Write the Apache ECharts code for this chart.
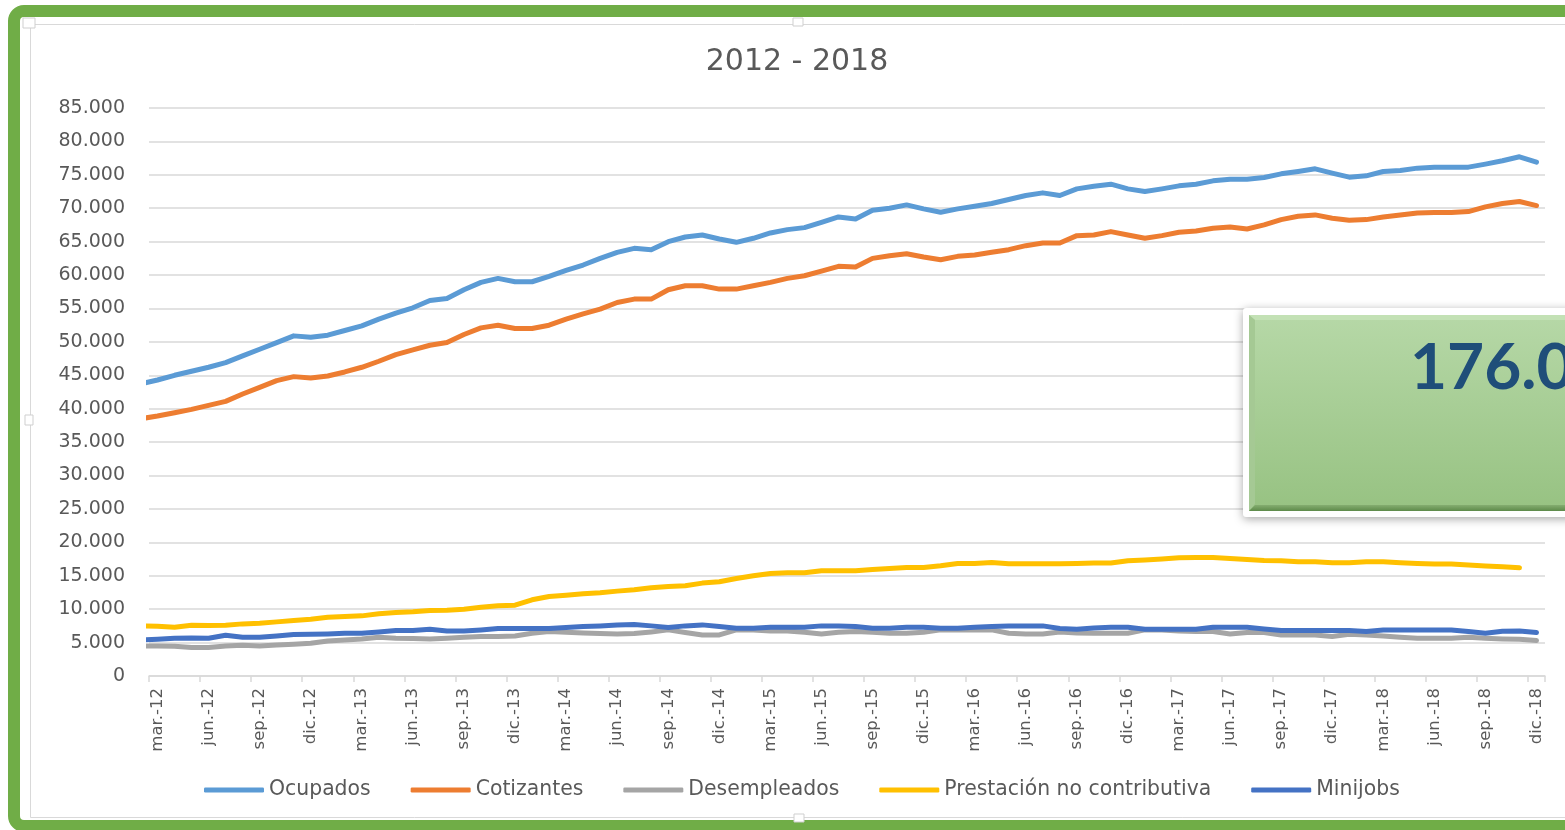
<!DOCTYPE html>
<html>
<head>
<meta charset="utf-8">
<script src="https://cdn.jsdelivr.net/npm/echarts@6/dist/echarts.min.js"></script>
<style>
html,body{margin:0;padding:0;background:#ffffff;}
#c{width:1565px;height:830px;}
</style>
</head>
<body>
<div id="c"></div>
<script>
// Categories (first one, feb.-12, lies just outside the visible axis range and is clipped)
const months = [
  'feb.-12','mar.-12','abr.-12','may.-12','jun.-12','jul.-12','ago.-12','sep.-12','oct.-12','nov.-12','dic.-12',
  'ene.-13','feb.-13','mar.-13','abr.-13','may.-13','jun.-13','jul.-13','ago.-13','sep.-13','oct.-13','nov.-13','dic.-13',
  'ene.-14','feb.-14','mar.-14','abr.-14','may.-14','jun.-14','jul.-14','ago.-14','sep.-14','oct.-14','nov.-14','dic.-14',
  'ene.-15','feb.-15','mar.-15','abr.-15','may.-15','jun.-15','jul.-15','ago.-15','sep.-15','oct.-15','nov.-15','dic.-15',
  'ene.-16','feb.-16','mar.-16','abr.-16','may.-16','jun.-16','jul.-16','ago.-16','sep.-16','oct.-16','nov.-16','dic.-16',
  'ene.-17','feb.-17','mar.-17','abr.-17','may.-17','jun.-17','jul.-17','ago.-17','sep.-17','oct.-17','nov.-17','dic.-17',
  'ene.-18','feb.-18','mar.-18','abr.-18','may.-18','jun.-18','jul.-18','ago.-18','sep.-18','oct.-18','nov.-18','dic.-18'
];

const ocupados = [
  43700, 44300, 45000, 45600, 46200, 46900, 47900, 48900, 49900, 50900, 50700,
  51000, 51700, 52400, 53400, 54300, 55100, 56200, 56500, 57800, 58900, 59500, 59000,
  59000, 59800, 60700, 61500, 62500, 63400, 64000, 63800, 65000, 65700, 66000, 65400,
  64900, 65500, 66300, 66800, 67100, 67900, 68700, 68400, 69700, 70000, 70500, 69900,
  69400, 69900, 70300, 70700, 71300, 71900, 72300, 71900, 72900, 73300, 73600, 72900,
  72500, 72900, 73350, 73600, 74100, 74350, 74350, 74600, 75150, 75500, 75900, 75250,
  74650, 74850, 75500, 75650, 76000, 76150, 76150, 76150, 76600, 77100, 77700, 76900
];

const cotizantes = [
  38500, 38900, 39400, 39900, 40500, 41100, 42200, 43200, 44200, 44800, 44600,
  44900, 45500, 46200, 47100, 48100, 48800, 49500, 49900, 51100, 52100, 52500, 52000,
  52000, 52500, 53400, 54200, 54900, 55900, 56400, 56400, 57800, 58400, 58400, 57900,
  57900, 58400, 58900, 59500, 59900, 60600, 61300, 61200, 62500, 62900, 63200, 62700,
  62300, 62800, 63000, 63400, 63800, 64400, 64800, 64800, 65900, 66000, 66500, 66000,
  65500, 65900, 66400, 66600, 67000, 67200, 66900, 67500, 68300, 68800, 69000, 68500,
  68200, 68300, 68700, 69000, 69300, 69350, 69350, 69500, 70200, 70700, 71000, 70400
];

const desempleados = [
  4500, 4500, 4450, 4250, 4250, 4500, 4600, 4500, 4650, 4750, 4900,
  5250, 5400, 5550, 5800, 5650, 5600, 5550, 5650, 5800, 5900, 5900, 6000,
  6400, 6650, 6550, 6450, 6350, 6300, 6350, 6600, 6900, 6500, 6150, 6150,
  6900, 6900, 6750, 6750, 6550, 6300, 6550, 6650, 6550, 6400, 6400, 6550,
  6900, 6900, 6900, 6900, 6400, 6300, 6300, 6600, 6450, 6400, 6400, 6400,
  6900, 6900, 6750, 6650, 6650, 6300, 6500, 6500, 6150, 6150, 6150, 5900,
  6250, 6150, 6000, 5800, 5650, 5650, 5650, 5800, 5650, 5550, 5500, 5300
];

const prestacion = [
  7500, 7450, 7300, 7600, 7550, 7600, 7800, 7900, 8100, 8300, 8500,
  8800, 8900, 9000, 9300, 9500, 9600, 9800, 9850, 10000, 10300, 10500, 10600,
  11400, 11900, 12100, 12300, 12450, 12700, 12900, 13200, 13400, 13500, 13900, 14100,
  14600, 15000, 15350, 15450, 15450, 15750, 15750, 15750, 15950, 16100, 16250, 16250,
  16500, 16850, 16850, 17000, 16800, 16800, 16800, 16800, 16850, 16900, 16900, 17250,
  17350, 17500, 17700, 17750, 17750, 17600, 17450, 17300, 17250, 17100, 17100, 16950,
  16950, 17100, 17100, 16950, 16850, 16750, 16750, 16600, 16450, 16350, 16200, null
];

const minijobs = [
  5400, 5500, 5650, 5700, 5650, 6100, 5800, 5800, 6000, 6200, 6250,
  6300, 6400, 6400, 6600, 6800, 6800, 7000, 6750, 6750, 6900, 7100, 7100,
  7100, 7100, 7250, 7400, 7500, 7650, 7700, 7500, 7250, 7500, 7650, 7400,
  7150, 7150, 7300, 7300, 7300, 7500, 7500, 7400, 7150, 7150, 7300, 7300,
  7150, 7150, 7300, 7400, 7500, 7500, 7500, 7100, 7000, 7200, 7300, 7300,
  7000, 7000, 7000, 7000, 7300, 7300, 7300, 7050, 6800, 6800, 6800, 6800,
  6800, 6650, 6900, 6900, 6900, 6900, 6900, 6650, 6400, 6700, 6750, 6500
];

const seriesNames = ['Ocupados', 'Cotizantes', 'Desempleados', 'Prestación no contributiva', 'Minijobs'];
const seriesColors = ['#5B9BD5', '#ED7D31', '#A5A5A5', '#FFC000', '#4472C4'];
const seriesData = [ocupados, cotizantes, desempleados, prestacion, minijobs];

const titleText = '2012 - 2018';
const boxText = '176.0';

const FONT = 'DejaVu Sans';
const TXT = '#595959';
const GRID = '#d9d9d9';

function fmtThousands(v) {
  return String(v).replace(/\B(?=(\d{3})+(?!\d))/g, '.');
}
const everyThird = (idx) => (idx - 1) % 3 === 0;

const chart = echarts.init(document.getElementById('c'), null, { renderer: 'canvas' });

const option = {
  animation: false,
  backgroundColor: '#ffffff',
  grid: {
    left: 149, right: 20, top: 108, bottom: 154,
    containLabel: false,
    outerBoundsMode: 'none'
  },
  legend: {
    data: seriesNames,
    left: 204,
    top: 780,
    padding: 0,
    icon: 'roundRect',
    itemWidth: 60,
    itemHeight: 5,
    itemGap: 40,
    textStyle: { fontFamily: FONT, fontSize: 20.4, color: TXT }
  },
  xAxis: {
    type: 'category',
    data: months,
    min: 1,
    boundaryGap: true,
    axisLine: { show: true, lineStyle: { color: GRID, width: 1.5 } },
    axisTick: { show: true, interval: everyThird, length: 6, lineStyle: { color: GRID, width: 1.5 } },
    axisLabel: {
      interval: everyThird,
      rotate: 90,
      margin: 12,
      fontFamily: FONT,
      fontSize: 16.5,
      color: TXT
    },
    splitLine: { show: false }
  },
  yAxis: {
    type: 'value',
    min: 0,
    max: 85000,
    interval: 5000,
    axisLine: { show: false },
    axisTick: { show: false },
    axisLabel: {
      margin: 24,
      fontFamily: FONT,
      fontSize: 19,
      color: TXT,
      formatter: fmtThousands
    },
    splitLine: { show: true, lineStyle: { color: GRID, width: 1.5 } }
  },
  series: seriesNames.map((name, k) => ({
    name: name,
    type: 'line',
    data: seriesData[k],
    symbol: 'none',
    clip: true,
    connectNulls: false,
    itemStyle: { color: seriesColors[k] },
    lineStyle: { color: seriesColors[k], width: 5, cap: 'round', join: 'round' },
    z: 2 + k
  })),
  graphic: [
    // green outer frame
    { type: 'rect', z: 100, silent: true,
      shape: { x: 14, y: 11, width: 1620, height: 815, r: 10 },
      style: { fill: 'none', stroke: '#70AD47', lineWidth: 12 } },
    // chart area border
    { type: 'rect', z: 100, silent: true,
      shape: { x: 30.5, y: 24.5, width: 1600, height: 793 },
      style: { fill: 'none', stroke: '#d9d9d9', lineWidth: 1 } },
    // selection handles
    { type: 'rect', z: 101, silent: true, shape: { x: 23, y: 18, width: 12, height: 10 },
      style: { fill: '#fff', stroke: '#cfcfcf', lineWidth: 1 } },
    { type: 'rect', z: 101, silent: true, shape: { x: 793, y: 18, width: 10, height: 8 },
      style: { fill: '#fff', stroke: '#cfcfcf', lineWidth: 1 } },
    { type: 'rect', z: 101, silent: true, shape: { x: 25, y: 415, width: 8, height: 10 },
      style: { fill: '#fff', stroke: '#cfcfcf', lineWidth: 1 } },
    { type: 'rect', z: 101, silent: true, shape: { x: 794, y: 814, width: 10, height: 8 },
      style: { fill: '#fff', stroke: '#cfcfcf', lineWidth: 1 } },
    // overlay box (white frame with shadow)
    { type: 'rect', z: 110, silent: true,
      shape: { x: 1243, y: 308, width: 420, height: 209, r: 3 },
      style: { fill: '#ffffff', shadowBlur: 10, shadowColor: 'rgba(0,0,0,0.35)', shadowOffsetX: 0, shadowOffsetY: 2 } },
    // green face
    { type: 'rect', z: 111, silent: true,
      shape: { x: 1249, y: 315, width: 420, height: 196 },
      style: { fill: new echarts.graphic.LinearGradient(0, 0, 0, 1, [
        { offset: 0, color: '#b6d8a7' },
        { offset: 1, color: '#97c282' }
      ]) } },
    // bevels
    { type: 'polygon', z: 112, silent: true,
      shape: { points: [[1249, 315], [1669, 315], [1669, 320], [1255, 320]] },
      style: { fill: '#c3e1b5' } },
    { type: 'polygon', z: 112, silent: true,
      shape: { points: [[1249, 315], [1255, 320], [1255, 504], [1249, 511]] },
      style: { fill: '#a5c994' } },
    { type: 'polygon', z: 112, silent: true,
      shape: { points: [[1249, 511], [1255, 505], [1669, 505], [1669, 511]] },
      style: { fill: new echarts.graphic.LinearGradient(0, 0, 0, 1, [
        { offset: 0, color: '#84ad70' },
        { offset: 1, color: '#5d8a4a' }
      ]) } },
    { type: 'text', z: 113, silent: true,
      x: 1410, y: 368,
      style: { text: boxText, fill: '#1F4E79', font: 'bold 64px Lato', align: 'left', verticalAlign: 'middle' } },
    // title
    { type: 'text', z: 100, silent: true,
      x: 797, y: 62,
      style: { text: titleText, fill: TXT, font: '30px "DejaVu Sans"', align: 'center', verticalAlign: 'middle' } }
  ]
};

chart.setOption(option);
</script>
</body>
</html>
